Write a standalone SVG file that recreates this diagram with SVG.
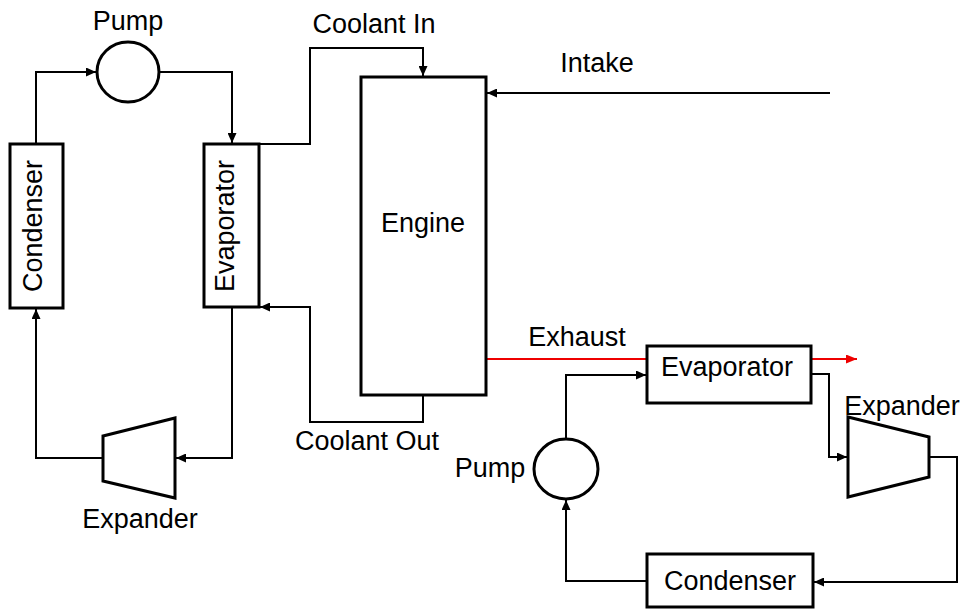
<svg xmlns="http://www.w3.org/2000/svg" width="969" height="609" viewBox="0 0 969 609">
<style>
text{font-family:"Liberation Sans",Arial,sans-serif;font-size:27px;fill:#000}
.box{fill:#fff;stroke:#000;stroke-width:3}
.ln{fill:none;stroke:#000;stroke-width:2}
.red{fill:none;stroke:#e00;stroke-width:2}
</style>
<defs>
<marker id="ah" markerUnits="userSpaceOnUse" markerWidth="10" markerHeight="9" refX="10" refY="4.5" orient="auto"><path d="M0,0 L10,4.5 L0,9 z" fill="#000"/></marker>
<marker id="ahr" markerUnits="userSpaceOnUse" markerWidth="11" markerHeight="9" refX="11" refY="4.5" orient="auto"><path d="M0,0 L11,4.5 L0,9 z" fill="#e00"/></marker>
</defs>
<g id="connectors">
<path class="ln" d="M36,144 V72 H96" marker-end="url(#ah)"/>
<path class="ln" d="M159,72 H232 V143" marker-end="url(#ah)"/>
<path class="ln" d="M232,307 V458 H176" marker-end="url(#ah)"/>
<path class="ln" d="M103,458 H36 V309" marker-end="url(#ah)"/>
<path class="ln" d="M259,144 H310 V48 H423 V76" marker-end="url(#ah)"/>
<path class="ln" d="M423,395 V422 H310 V307 H260" marker-end="url(#ah)"/>
<path class="ln" d="M830,93 H487" marker-end="url(#ah)"/>
<path class="red" d="M486,359 H857" marker-end="url(#ahr)"/>
<path class="ln" d="M566,439 V375 H646" marker-end="url(#ah)"/>
<path class="ln" d="M811,374 H829 V457 H847" marker-end="url(#ah)"/>
<path class="ln" d="M929,457 H957 V582 H814" marker-end="url(#ah)"/>
<path class="ln" d="M647,581 H566 V500" marker-end="url(#ah)"/>
</g>
<g id="pump1">
<ellipse class="box" cx="128" cy="72" rx="31" ry="30"/>
<text x="128" y="30" text-anchor="middle">Pump</text>
</g>
<g id="condenser1">
<rect class="box" x="10" y="144" width="53" height="164"/>
<text transform="translate(42,226) rotate(-90)" text-anchor="middle">Condenser</text>
</g>
<g id="evaporator1">
<rect class="box" x="204" y="144" width="55" height="163"/>
<text transform="translate(234,226) rotate(-90)" text-anchor="middle">Evaporator</text>
</g>
<g id="expander1">
<path class="box" d="M103,436 L175,418 V498 L103,481 Z"/>
<text x="140" y="528" text-anchor="middle">Expander</text>
</g>
<g id="engine">
<rect class="box" x="361" y="77" width="125" height="318"/>
<text x="423" y="232" text-anchor="middle">Engine</text>
</g>
<g id="labels">
<text x="374" y="33" text-anchor="middle">Coolant In</text>
<text x="367" y="450" text-anchor="middle">Coolant Out</text>
<text x="597" y="72" text-anchor="middle">Intake</text>
<text x="577" y="346" text-anchor="middle">Exhaust</text>
</g>
<g id="evaporator2">
<rect class="box" x="647" y="346" width="164" height="57"/>
<text x="727" y="376" text-anchor="middle">Evaporator</text>
</g>
<g id="pump2">
<ellipse class="box" cx="566" cy="469" rx="32" ry="30"/>
<text x="490" y="477" text-anchor="middle">Pump</text>
</g>
<g id="expander2">
<path class="box" d="M848,417 L929,437 V477 L848,497 Z"/>
<text x="902" y="415" text-anchor="middle">Expander</text>
</g>
<g id="condenser2">
<rect class="box" x="647" y="554" width="166" height="53"/>
<text x="730" y="590" text-anchor="middle">Condenser</text>
</g>
</svg>
